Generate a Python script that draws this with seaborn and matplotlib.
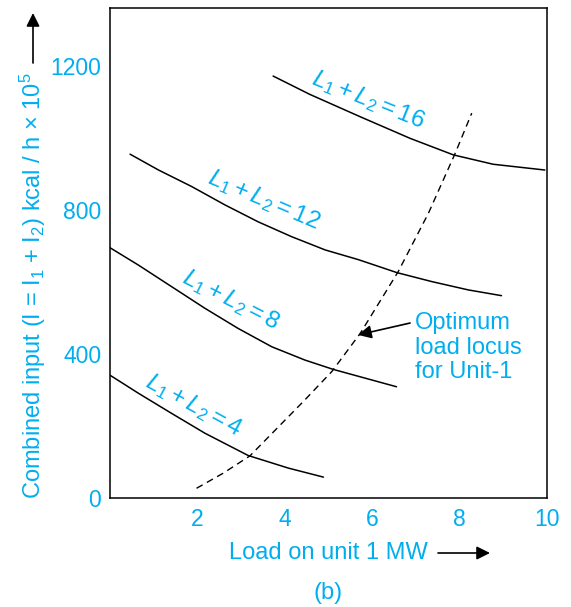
import matplotlib
matplotlib.use("Agg")
import matplotlib.pyplot as plt
import seaborn as sns
import pandas as pd

# ---- data ----
x_L4 = [0.00, 0.66, 1.42, 2.18, 3.17, 4.09, 4.89]
y_L4 = [342, 291, 235, 180, 118, 83, 58]

x_L8 = [0.00, 0.66, 1.42, 2.18, 2.94, 3.71, 4.47, 5.12, 5.84, 6.56]
y_L8 = [696, 647, 587, 527, 471, 420, 383, 357, 333, 309]

x_L12 = [0.47, 1.12, 1.88, 2.64, 3.40, 4.16, 4.93, 5.69, 6.57, 7.37, 8.20, 8.96]
y_L12 = [955, 911, 865, 814, 767, 726, 689, 662, 626, 601, 578, 562]

x_L16 = [3.74, 4.58, 5.73, 6.87, 7.86, 8.77, 9.95]
y_L16 = [1172, 1121, 1059, 999, 953, 927, 911]

x_locus = [1.99, 2.60, 3.21, 4.43, 5.08, 5.73, 6.60, 7.29, 7.90, 8.28]
y_locus = [27, 69, 117, 268, 351, 457, 629, 791, 957, 1069]

curve_labels = [r"$\mathit{L_1 + L_2 = 4}$", r"$\mathit{L_1 + L_2 = 8}$",
                r"$\mathit{L_1 + L_2 = 12}$", r"$\mathit{L_1 + L_2 = 16}$"]
label_x = [1.93, 2.78, 3.53, 5.91]
label_y = [258, 550, 828, 1106]
label_rot = [-28.5, -27, -23, -22]

x_ticks = [2, 4, 6, 8, 10]
y_ticks = [0, 400, 800, 1200]

CYAN = "#00AEEF"

sns.set_style("white")
plt.rcParams["font.family"] = ["Liberation Sans", "DejaVu Sans"]
plt.rcParams["mathtext.fontset"] = "custom"
plt.rcParams["mathtext.rm"] = "Liberation Sans"
plt.rcParams["mathtext.it"] = "Liberation Sans:italic"
plt.rcParams["mathtext.bf"] = "Liberation Sans:bold"

fig = plt.figure(figsize=(5.71, 6.07), dpi=100)
ax = fig.add_axes([109.5 / 571, 1 - 498 / 607, (547 - 109.5) / 571, (498 - 8) / 607])

for xs, ys in [(x_L4, y_L4), (x_L8, y_L8), (x_L12, y_L12), (x_L16, y_L16)]:
    df = pd.DataFrame({"x": xs, "y": ys})
    sns.lineplot(data=df, x="x", y="y", color="black", lw=1.1, sort=False, ax=ax)

df_loc = pd.DataFrame({"x": x_locus, "y": y_locus})
sns.lineplot(data=df_loc, x="x", y="y", color="black", lw=1.0, sort=False,
             ax=ax, linestyle=(0, (5, 3.5)))

for t, lx, ly, r in zip(curve_labels, label_x, label_y, label_rot):
    ax.text(lx, ly, t, color=CYAN, fontsize=17.5, rotation=r, ha="center",
            va="center", rotation_mode="anchor")

ax.text(6.98, 417, "Optimum\nload locus\nfor Unit-1", color=CYAN, fontsize=17,
        ha="left", va="center", multialignment="left", linespacing=1.15)
ax.annotate("", xy=(5.68, 453), xytext=(6.87, 486),
            arrowprops=dict(arrowstyle="-|>", mutation_scale=20, color="black",
                            lw=1.2, shrinkA=0, shrinkB=0))

ax.set_xlim(0, 10)
ax.set_ylim(0, 1361)
ax.set_xticks(x_ticks)
ax.set_yticks(y_ticks)
ax.set_xticklabels([str(v) for v in x_ticks])
ax.set_yticklabels([str(v) for v in y_ticks])
ax.tick_params(direction="in", length=9, width=1, colors="black",
               labelcolor=CYAN, labelsize=16.5)
ax.tick_params(axis="x", pad=7)
ax.tick_params(axis="y", pad=6)
for s in ax.spines.values():
    s.set_visible(True)
    s.set_color("black")
    s.set_linewidth(1.1)
ax.set_xlabel("")
ax.set_ylabel("")

fig.text(328 / 571, 1 - 553 / 607, "Load on unit 1 MW", color=CYAN, fontsize=17,
         ha="center", va="center")
fig.text(328 / 571, 1 - 593 / 607, "(b)", color=CYAN, fontsize=17,
         ha="center", va="center")
ax.annotate("", xy=(490 / 571, 1 - 553 / 607), xytext=(438 / 571, 1 - 553 / 607),
            xycoords="figure fraction", textcoords="figure fraction",
            arrowprops=dict(arrowstyle="-|>", mutation_scale=20, color="black",
                            lw=1.2, shrinkA=0, shrinkB=0))

fig.text(33 / 571, 1 - 286 / 607,
         r"Combined input (I = I$_1$ + I$_2$) kcal / h $\times$ 10$^5$",
         color=CYAN, fontsize=17, rotation=90, ha="center", va="center")
ax.annotate("", xy=(33 / 571, 1 - 13 / 607), xytext=(33 / 571, 1 - 63 / 607),
            xycoords="figure fraction", textcoords="figure fraction",
            arrowprops=dict(arrowstyle="-|>", mutation_scale=20, color="black",
                            lw=1.2, shrinkA=0, shrinkB=0))

fig.savefig("out.png", dpi=100)
